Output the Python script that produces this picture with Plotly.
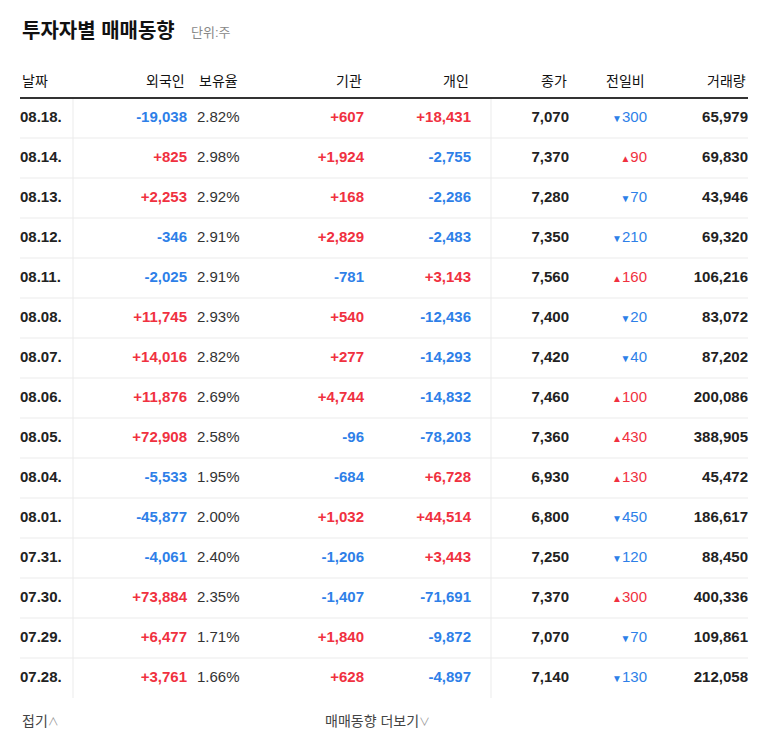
import plotly.graph_objects as go

# 투자자별 매매동향 데이터
dates = ["08.18.", "08.14.", "08.13.", "08.12.", "08.11.", "08.08.", "08.07.", "08.06.",
         "08.05.", "08.04.", "08.01.", "07.31.", "07.30.", "07.29.", "07.28."]
foreign = [-19038, 825, 2253, -346, -2025, 11745, 14016, 11876, 72908, -5533, -45877, -4061, 73884, 6477, 3761]
holding = [2.82, 2.98, 2.92, 2.91, 2.91, 2.93, 2.82, 2.69, 2.58, 1.95, 2.00, 2.40, 2.35, 1.71, 1.66]
institution = [607, 1924, 168, 2829, -781, 540, 277, 4744, -96, -684, 1032, -1206, -1407, 1840, 628]
individual = [18431, -2755, -2286, -2483, 3143, -12436, -14293, -14832, -78203, 6728, 44514, 3443, -71691, -9872, -4897]
close = [7070, 7370, 7280, 7350, 7560, 7400, 7420, 7460, 7360, 6930, 6800, 7250, 7370, 7070, 7140]
change = [-300, 90, -70, -210, 160, -20, -40, 100, 430, 130, -450, -120, 300, -70, -130]
volume = [65979, 69830, 43946, 69320, 106216, 83072, 87202, 200086, 388905, 45472, 186617, 88450, 400336, 109861, 212058]
headers = ["날짜", "외국인", "보유율", "기관", "개인", "종가", "전일비", "거래량"]

RED = "#f0313f"
BLUE = "#2e7fe8"
DARK = "#222222"
FONT = "Liberation Sans, Noto Sans CJK KR"

rows = [118 + 40 * i for i in range(len(dates))]


def signed(v):
    return f"{v:+,}"


def col(vals):
    return [RED if v > 0 else BLUE for v in vals]


fig = go.Figure()


def add_col(x, texts, colors, pos, bold=True, size=15):
    fig.add_trace(go.Scatter(
        x=[x] * len(texts), y=rows, mode="text", text=texts, textposition=pos,
        textfont=dict(color=colors, size=size, family=FONT, weight="bold" if bold else "normal"),
        hoverinfo="skip", showlegend=False))


add_col(20, dates, DARK, "middle right")
add_col(187, [signed(v) for v in foreign], col(foreign), "middle left")
add_col(197, [f"{v:.2f}%" for v in holding], "#333333", "middle right", bold=False)
add_col(364, [signed(v) for v in institution], col(institution), "middle left")
add_col(471, [signed(v) for v in individual], col(individual), "middle left")
add_col(569, [f"{v:,}" for v in close], DARK, "middle left")
add_col(647, [("<span style='font-size:10px'>▲</span>" if v > 0 else "<span style='font-size:10px'>▼</span>") + f"{abs(v)}"
              for v in change], col(change), "middle left", bold=False)
add_col(748, [f"{v:,}" for v in volume], DARK, "middle left")

# 헤더
hx = [20, 187, 197, 364, 471, 569, 647, 748]
hanchor = ["left", "right", "left", "right", "right", "right", "right", "right"]
for x, h, a in zip(hx, headers, hanchor):
    fig.add_annotation(x=x, y=81, text=h, xanchor=a, showarrow=False,
                       font=dict(size=14, color="#111111", family=FONT))

# 구분선
fig.add_shape(type="line", x0=20, x1=748, y0=98, y1=98, line=dict(color="#333333", width=2))
for r in rows[:-1]:
    fig.add_shape(type="line", x0=20, x1=748, y0=r + 20, y1=r + 20, line=dict(color="#ebebeb", width=1))
for vx in [73, 491]:
    fig.add_shape(type="line", x0=vx, x1=vx, y0=99, y1=698, line=dict(color="#ebebeb", width=1))

fig.add_annotation(x=20, y=31, text="<b>투자자별 매매동향</b>", xanchor="left", showarrow=False,
                   font=dict(size=20, color="#111111", family=FONT))
fig.add_annotation(x=189, y=32, text="단위:주", xanchor="left", showarrow=False,
                   font=dict(size=13, color="#888888", family=FONT))
fig.add_annotation(x=20, y=721, text="접기<span style='font-size:11px;color:#999'>∧</span>",
                   xanchor="left", showarrow=False, font=dict(size=14, color="#444444", family=FONT))
fig.add_annotation(x=323, y=721, text="매매동향 더보기<span style='font-size:11px;color:#999'>∨</span>",
                   xanchor="left", showarrow=False, font=dict(size=14, color="#444444", family=FONT))

# 페이지 body 여백(8px) 보정
fig.update_xaxes(range=[8, 776], visible=False, fixedrange=True)
fig.update_yaxes(range=[757, 8], visible=False, fixedrange=True)
fig.update_layout(width=768, height=749, margin=dict(l=0, r=0, t=0, b=0),
                  plot_bgcolor="white", paper_bgcolor="white")

fig.write_html("out.html")
